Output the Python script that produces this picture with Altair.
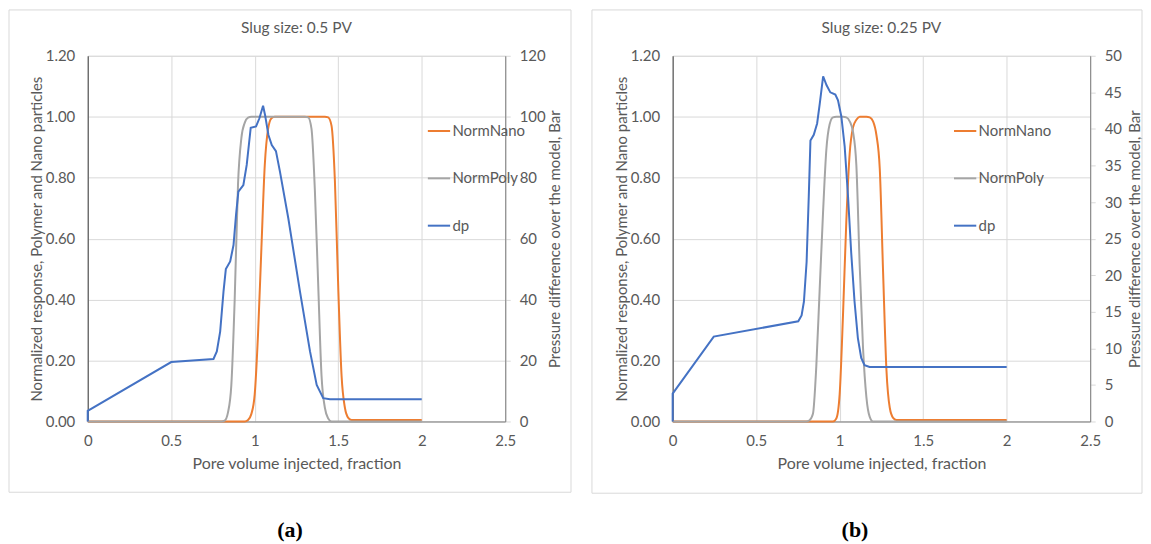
import altair as alt
import pandas as pd

# ---------------- Panel (a): slug size 0.5 PV ----------------
a_nano_x = [0, 0.94, 0.96, 0.98, 1.00, 1.02, 1.04, 1.06, 1.08, 1.10, 1.12,
            1.42, 1.44, 1.46, 1.48, 1.50, 1.52, 1.54, 1.56, 1.58, 2.0]
a_nano_y = [0, 0, 0.005, 0.025, 0.09, 0.29, 0.57, 0.84, 0.96, 0.995, 1.0,
            1.0, 0.998, 0.97, 0.79, 0.44, 0.15, 0.045, 0.012, 0.005, 0.005]
a_poly_x = [0, 0.80, 0.82, 0.84, 0.86, 0.88, 0.90, 0.92, 0.94, 0.96, 0.98,
            1.30, 1.32, 1.34, 1.36, 1.38, 1.40, 1.42, 1.44, 1.46, 2.0]
a_poly_y = [0, 0, 0.003, 0.03, 0.12, 0.40, 0.78, 0.93, 0.98, 0.997, 1.0,
            1.0, 0.998, 0.96, 0.76, 0.45, 0.15, 0.045, 0.01, 0.0, 0.0]
a_dp_x = [0, 0, 0.5, 0.753, 0.773, 0.793, 0.813, 0.827, 0.853, 0.873, 0.888,
          0.902, 0.932, 0.952, 0.976, 1.008, 1.028, 1.050, 1.062, 1.082,
          1.102, 1.127, 1.151, 1.201, 1.271, 1.331, 1.371, 1.410, 1.450, 2.0]
a_dp_y = [0, 3.5, 19.5, 20.5, 23, 29.5, 42.6, 50, 52.5, 57.9, 67.8,
          75.4, 77.6, 84.2, 96.4, 96.8, 99.5, 103.6, 100.5, 94,
          90.7, 88.7, 82, 66.7, 42.6, 23, 12, 7.65, 7.3, 7.3]

# ---------------- Panel (b): slug size 0.25 PV ----------------
b_nano_x = [0, 0.96, 0.98, 1.00, 1.02, 1.04, 1.06, 1.08, 1.10, 1.12,
            1.16, 1.18, 1.20, 1.22, 1.24, 1.26, 1.28, 1.30, 1.32, 1.34, 2.0]
b_nano_y = [0, 0, 0.01, 0.09, 0.35, 0.66, 0.88, 0.965, 0.99, 1.0,
            1.0, 0.998, 0.985, 0.94, 0.83, 0.49, 0.17, 0.045, 0.012, 0.005, 0.005]
b_poly_x = [0, 0.80, 0.82, 0.84, 0.86, 0.88, 0.90, 0.92, 0.94, 0.96, 0.98,
            1.02, 1.04, 1.06, 1.08, 1.10, 1.12, 1.14, 1.16, 1.18, 1.20, 2.0]
b_poly_y = [0, 0, 0.004, 0.025, 0.18, 0.43, 0.68, 0.89, 0.975, 0.998, 1.0,
            1.0, 0.998, 0.985, 0.95, 0.84, 0.51, 0.24, 0.08, 0.015, 0.0, 0.0]
b_dp_x = [0, 0, 0.246, 0.752, 0.772, 0.786, 0.802, 0.815, 0.825, 0.845, 0.865,
          0.881, 0.901, 0.921, 0.944, 0.974, 0.990, 1.010, 1.030, 1.050,
          1.069, 1.089, 1.109, 1.129, 1.149, 1.179, 2.0]
b_dp_y = [0, 3.8, 11.6, 13.7, 14.5, 16.4, 21.8, 30.8, 38.4, 39.2, 40.75,
          43.5, 47.2, 46.0, 45.0, 44.7, 43.9, 41.7, 37.6, 30.8,
          23.1, 16.4, 11.4, 8.7, 7.7, 7.45, 7.45]

SERIES = ["NormNano", "NormPoly", "dp"]
COLORS = ["#ED7D31", "#A5A5A5", "#4472C4"]
X_TICKS = [0, 0.5, 1, 1.5, 2, 2.5]
Y_TICKS = [0, 0.2, 0.4, 0.6, 0.8, 1.0, 1.2]

FONT = "Lato"
TXT = "#595959"
GRID = "#D9D9D9"
W, H = 419, 367
LBL = 15
TTL = 15


def make_panel(nano_x, nano_y, poly_x, poly_y, dp_x, dp_y, dp_max, dp_step,
               title, tag, legend_x, rtitle_x, frame, tag_x):
    norm_df = pd.DataFrame({
        "x": nano_x + poly_x,
        "v": nano_y + poly_y,
        "series": ["NormNano"] * len(nano_x) + ["NormPoly"] * len(poly_x),
        "i": list(range(len(nano_x))) + list(range(len(poly_x))),
    })
    dp_df = pd.DataFrame({"x": dp_x, "v": dp_y, "series": ["dp"] * len(dp_x),
                          "i": list(range(len(dp_x)))})

    color = alt.Color(
        "series:N",
        scale=alt.Scale(domain=SERIES, range=COLORS),
        sort=SERIES,
        legend=alt.Legend(
            title=None, orient="none", legendX=legend_x, legendY=63,
            symbolType="stroke", symbolSize=500, symbolStrokeWidth=2,
            labelFontSize=15, labelColor=TXT, labelFont=FONT,
            rowPadding=26.5, labelOffset=1, padding=0,
        ),
    )
    xenc = alt.X(
        "x:Q",
        scale=alt.Scale(domain=[0, 2.5], nice=False, zero=False),
        axis=alt.Axis(
            values=X_TICKS, format="~g", title="Pore volume injected, fraction",
            grid=True, gridColor=GRID, ticks=False, labelPadding=12,
            labelFlush=False, labelOverlap=False,
            domainColor="#7f7f7f", labelFont=FONT, labelFontSize=LBL,
            labelColor=TXT, titleFont=FONT, titleFontSize=TTL + 1,
            titleColor=TXT, titleFontWeight="normal",
            titleY=42, titleBaseline="middle",
        ),
    )
    norm = alt.Chart(norm_df).mark_line(
        interpolate="monotone", strokeWidth=2
    ).encode(
        x=xenc,
        y=alt.Y(
            "v:Q",
            scale=alt.Scale(domain=[0, 1.2], nice=False),
            axis=alt.Axis(
                values=Y_TICKS, format=".2f",
                title="Normalized response,  Polymer and Nano particles",
                grid=True, gridColor=GRID, ticks=False, labelPadding=13,
                labelFlush=False, labelOverlap=False,
                domainColor="#404040", labelFont=FONT, labelFontSize=LBL,
                labelColor=TXT, titleFont=FONT, titleFontSize=TTL,
                titleColor=TXT, titleFontWeight="normal",
                titleAngle=270, titleX=-51, titleY=H / 2,
                titleBaseline="middle", titleAlign="center",
            ),
        ),
        color=color,
        order=alt.Order("i:Q"),
    )
    dp_ticks = list(range(0, dp_max + 1, dp_step))
    dp = alt.Chart(dp_df).mark_line(strokeWidth=2).encode(
        x=xenc,
        y=alt.Y(
            "v:Q",
            scale=alt.Scale(domain=[0, dp_max], nice=False),
            axis=alt.Axis(
                orient="right", values=dp_ticks, format="d",
                title="Pressure difference over the model, Bar",
                grid=False, ticks=True, tickSize=5, tickColor=GRID,
                labelPadding=9, domainColor="#7f7f7f",
                labelFlush=False, labelOverlap=False,
                labelFont=FONT, labelFontSize=LBL, labelColor=TXT,
                titleFont=FONT, titleFontSize=TTL, titleColor=TXT,
                titleFontWeight="normal", titleAngle=270,
                titleX=rtitle_x, titleY=H / 2,
                titleBaseline="middle", titleAlign="center",
            ),
        ),
        color=color,
        order=alt.Order("i:Q"),
    )
    one = alt.Data(values=[{"k": 1}])
    fx1, fx2, fy1, fy2 = frame
    frame_mark = alt.Chart(one).mark_rect(
        fill="transparent", stroke=GRID, strokeWidth=1
    ).encode(
        x=alt.value(fx1), x2=alt.value(fx2), y=alt.value(fy1), y2=alt.value(fy2)
    )
    title_mark = alt.Chart(one).mark_text(
        text=title, font=FONT, fontSize=15.5, color=TXT,
        align="center", baseline="middle",
    ).encode(x=alt.value(W / 2), y=alt.value(-28))
    tag_mark = alt.Chart(one).mark_text(
        text=tag, font="Liberation Serif", fontSize=22, fontWeight="bold",
        color="#000000", align="center", baseline="middle",
    ).encode(x=alt.value(tag_x), y=alt.value(476))

    return alt.layer(frame_mark, norm, dp, title_mark, tag_mark).resolve_scale(
        y="independent"
    ).properties(width=W, height=H)


panel_a = make_panel(a_nano_x, a_nano_y, a_poly_x, a_poly_y, a_dp_x, a_dp_y,
                     120, 20, "Slug size: 0.5 PV", "(a)", 340, 49,
                     (-79, 485, -46, 438), 203)
panel_b = make_panel(b_nano_x, b_nano_y, b_poly_x, b_poly_y, b_dp_x, b_dp_y,
                     50, 5, "Slug size: 0.25 PV", "(b)", 281, 44,
                     (-81, 471, -46, 439), 183)

chart = alt.hconcat(panel_a, panel_b, spacing=19).resolve_scale(
    color="independent", x="independent", y="independent"
).resolve_legend(color="independent").properties(padding=0).configure_view(
    stroke="#404040", strokeWidth=1
).configure(background="white")

chart.save("out.html", embed_options={"renderer": "svg", "actions": False})
